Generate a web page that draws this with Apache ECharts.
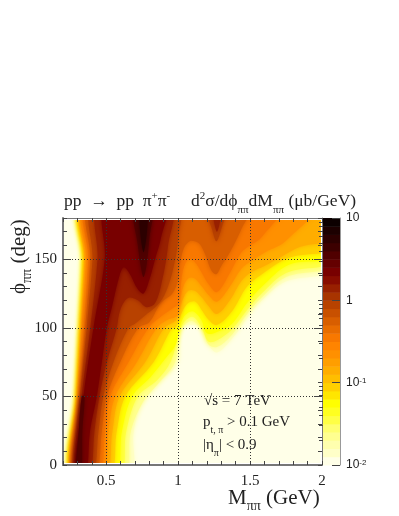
<!DOCTYPE html>
<html>
<head>
<meta charset="utf-8">
<style>
  html, body { margin: 0; background: #fff; }
  #chart { width: 399px; height: 516px; }
</style>
<script src="https://cdn.jsdelivr.net/npm/echarts@6/dist/echarts.min.js"></script>
</head>
<body>
<div id="chart"></div>
<script>
// colz palette, one colour per 0.1 in log10(value), from 10^-2 up to 10^1
const bandLow = [-2, -1.9, -1.8, -1.7, -1.6, -1.5, -1.4, -1.3, -1.2, -1.1, -1, -0.9, -0.8, -0.7, -0.6,
  -0.5, -0.4, -0.3, -0.2, -0.1, 0, 0.1, 0.2, 0.3, 0.4, 0.5, 0.6, 0.7, 0.8, 0.9]
const bandColor = ['#FFFFE8', '#FFFFC8', '#FFFFAE', '#FFFF90', '#FFFF70', '#FFFF45', '#FFFF20', '#FFFF00',
  '#FFE600', '#FFD000', '#FFBE00', '#FFAD00', '#FF9E00', '#FF9000', '#FF8400', '#F87800', '#E86C00', '#D85E00',
  '#C85000', '#B84200', '#A83400', '#982000', '#880C00', '#780000', '#640000', '#500000', '#3C0000', '#2C0000',
  '#1C0000', '#0C0000']

// contour outlines, as [M, phi]; they run past the filled area and get clipped to it
const floorLevel = [[0.15, -10], [2.1, -10], [2.1, 190], [0.15, 190]]
const contourM19 = [[0.25, -10], [0.283, 50], [0.305, 100], [0.328, 150], [0.337, 190], [2.1, 190], [2.1, 144],
  [1.745, 133.6], [1.583, 120], [1.479, 107], [1.375, 92], [1.27, 82], [1.213, 87.4], [1.178, 98], [1.144, 102],
  [1.074, 102], [1.005, 99.6], [1, 75], [0.877, 60.7], [0.795, 51], [0.726, 39], [0.69, 23], [0.665, -10]]
const contourM17 = [[0.252, -10], [0.286, 50], [0.309, 100], [0.331, 150], [0.34, 190], [2.1, 190], [2.1, 147],
  [1.75, 137], [1.58, 122], [1.479, 110], [1.375, 95], [1.27, 86], [1.21, 88], [1.17, 98], [1.1, 105], [1.04, 102],
  [1.002, 97], [0.98, 75], [0.85, 58], [0.755, 46], [0.672, 25], [0.62, -10]]
const contourM15 = [[0.254, -10], [0.288, 50], [0.312, 100], [0.334, 150], [0.343, 190], [2.1, 190], [2.1, 150],
  [1.75, 140], [1.58, 125], [1.479, 113], [1.375, 99], [1.27, 91], [1.21, 90], [1.165, 100], [1.1, 108], [1.04, 104],
  [1.003, 95], [0.947, 75], [0.855, 62], [0.72, 50], [0.64, 25], [0.588, -10]]
const contourM13 = [[0.257, -10], [0.291, 50], [0.316, 100], [0.339, 150], [0.347, 190], [2.1, 190], [2.1, 153],
  [1.769, 146], [1.583, 130], [1.479, 118], [1.375, 103], [1.27, 97], [1.2, 96], [1.16, 106], [1.1, 112], [1.04, 108],
  [1.005, 98], [0.98, 87], [0.923, 79], [0.807, 64], [0.68, 50], [0.61, 25], [0.556, -10]]
const contourM11 = [[0.259, -10], [0.295, 50], [0.32, 100], [0.345, 150], [0.352, 190], [2.1, 190], [2.1, 159],
  [1.77, 151], [1.583, 139], [1.479, 130], [1.375, 112], [1.27, 102], [1.21, 106], [1.17, 112], [1.12, 119], [1.07, 118],
  [1.03, 112], [1.005, 105], [0.98, 100], [0.958, 100], [0.83, 75], [0.633, 50], [0.574, 25], [0.52, -10]]
const contourM09 = [[0.262, -10], [0.3, 50], [0.325, 100], [0.35, 150], [0.357, 190], [2.1, 190], [2.1, 166],
  [1.85, 159], [1.72, 152], [1.6, 145], [1.5, 140], [1.44, 134], [1.36, 120], [1.27, 110], [1.21, 116], [1.165, 122],
  [1.116, 127], [1.07, 127], [1.03, 120], [1.005, 110], [0.98, 105], [0.905, 100], [0.772, 75], [0.593, 50], [0.544, 25],
  [0.49, -10]]
const contourM07 = [[0.266, -10], [0.307, 50], [0.33, 100], [0.36, 150], [0.367, 190], [1.95, 190], [1.745, 163],
  [1.606, 155], [1.514, 149], [1.44, 143], [1.36, 130], [1.27, 119], [1.21, 124], [1.165, 130], [1.116, 136],
  [1.07, 136], [1.03, 128], [1.005, 112], [0.985, 108], [0.93, 106], [0.853, 100], [0.714, 75], [0.563, 50], [0.516, 25],
  [0.47, -10]]
const contourM05 = [[0.269, -10], [0.312, 50], [0.345, 100], [0.375, 150], [0.382, 190], [1.72, 190], [1.58, 166],
  [1.5, 160], [1.44, 155], [1.36, 140], [1.27, 126], [1.21, 132], [1.165, 140], [1.116, 148], [1.07, 150], [1.03, 140],
  [1.005, 118], [0.96, 114], [0.88, 108], [0.795, 100], [0.656, 75], [0.528, 50], [0.493, 25], [0.445, -10]]
const contourM03 = [[0.271, -10], [0.316, 50], [0.355, 100], [0.39, 150], [0.397, 190], [1.5, 190], [1.44, 172],
  [1.36, 155], [1.3, 145], [1.266, 139], [1.23, 142], [1.19, 153], [1.15, 161], [1.116, 163], [1.08, 163], [1.04, 158],
  [1.01, 145], [1, 135], [0.96, 125], [0.88, 118], [0.8, 104], [0.725, 100], [0.598, 75], [0.505, 50], [0.47, 25],
  [0.42, -10]]
const contourM01 = [[0.273, -10], [0.319, 50], [0.365, 100], [0.405, 150], [0.412, 190], [1, 190], [1, 165],
  [0.98, 150], [0.93, 130], [0.87, 118], [0.76, 108], [0.7, 103], [0.656, 100], [0.551, 75], [0.48, 50], [0.447, 25],
  [0.4, -10]]
const peakM01 = [[1.19, 190], [1.235, 172], [1.266, 163], [1.3, 172], [1.34, 190]]
const contourP01 = [[0.277, -10], [0.33, 50], [0.39, 100], [0.44, 150], [0.452, 190], [0.95, 190], [0.93, 160],
  [0.89, 135], [0.84, 118], [0.78, 115], [0.72, 120], [0.66, 122], [0.62, 118], [0.59, 110], [0.574, 100], [0.505, 75],
  [0.453, 50], [0.419, 25], [0.38, -10]]
const peakP01 = [[1.24, 190], [1.27, 170], [1.3, 190]]
const contourP03 = [[0.281, -10], [0.342, 50], [0.412, 100], [0.49, 150], [0.497, 190], [0.91, 190], [0.88, 165],
  [0.84, 150], [0.8, 135], [0.76, 125], [0.72, 128], [0.66, 140], [0.62, 144], [0.585, 135], [0.54, 115], [0.505, 100],
  [0.47, 75], [0.435, 50], [0.388, 25], [0.355, -10]]
const rhoP05 = [[0.69, 190], [0.72, 160], [0.745, 142], [0.76, 137], [0.78, 145], [0.8, 165], [0.82, 190]]
const edgeP05 = [[0.288, -10], [0.325, -10], [0.335, 25], [0.35, 50], [0.33, 50], [0.31, 25]]
const rhoP07 = [[0.73, 190], [0.76, 155], [0.79, 190]]

// which band each outline is filled with, painted from low to high
const contourBand = [0, 1, 3, 5, 7, 9, 11, 13, 15, 17, 19, 19, 21, 21, 23, 25, 25, 27]
const contourShape = [floorLevel, contourM19, contourM17, contourM15, contourM13, contourM11, contourM09, contourM07,
  contourM05, contourM03, contourM01, peakM01, contourP01, peakP01, contourP03, rhoP05, edgeP05, rhoP07]

// the filled part of the plot stops just short of the frame
const filledMass = [0.2, 1.99]
const filledPhi = [1.5, 178.5]

const massMajor = [0.5, 1, 1.5]
const massLabels = [0.5, 1, 1.5, 2]
const phiMajor = [50, 100, 150]
const phiLabels = [0, 50, 100, 150]
const barLabels = [-2, -1, 0, 1]
const barMinor = [0.02, 0.03, 0.04, 0.05, 0.06, 0.07, 0.08, 0.09, 0.2, 0.3, 0.4, 0.5, 0.6, 0.7, 0.8, 0.9,
  2, 3, 4, 5, 6, 7, 8, 9].map((v) => Math.log10(v))

const serif = '"Liberation Serif", serif'
const axisGrey = '#777'
const inkColor = '#222'

const plotRect = { left: 63, top: 218, width: 259, height: 247 }
const barRect = { left: 323, top: 218, width: 17, height: 247 }

const chart = echarts.init(document.getElementById('chart'))

function renderContour(params, api) {
  const i = api.value(0)
  const fill = bandColor[contourBand[i]]
  const lo = api.coord([filledMass[0], filledPhi[0]])
  const hi = api.coord([filledMass[1], filledPhi[1]])
  return {
    type: 'polygon',
    shape: { points: contourShape[i].map((p) => api.coord(p)), smooth: i === 0 ? 0 : 0.35 },
    style: { fill, shadowBlur: i === 0 ? 0 : 5, shadowColor: fill },
    clipPath: { type: 'rect', shape: { x: lo[0], y: hi[1], width: hi[0] - lo[0], height: lo[1] - hi[1] } },
  }
}

function renderBand(params, api) {
  const i = api.value(0)
  const lo = api.coord([0, bandLow[i]])
  const hi = api.coord([1, i + 1 < bandLow.length ? bandLow[i + 1] : 1])
  return {
    type: 'rect',
    shape: { x: lo[0], y: hi[1], width: hi[0] - lo[0], height: lo[1] - hi[1] + 0.5 },
    style: { fill: bandColor[i] },
  }
}

function minorX(position, labels) {
  return {
    type: 'value', gridIndex: 0, position, min: 0.2, max: 2, interval: 0.1, z: 5,
    axisLine: { onZero: false, lineStyle: { color: axisGrey, width: position === 'bottom' ? 2 : 1 } },
    axisTick: { inside: true, length: 4, lineStyle: { color: '#444' } },
    axisLabel: labels
      ? { customValues: massLabels, margin: 9, color: inkColor, fontFamily: serif, fontSize: 15 }
      : { show: false },
    splitLine: { show: false },
  }
}

function minorY(position, labels) {
  return {
    type: 'value', gridIndex: 0, position, min: 0, max: 180, interval: 10, z: 5,
    axisLine: { onZero: false, lineStyle: { color: axisGrey, width: position === 'left' ? 2 : 1 } },
    axisTick: { inside: true, length: 4, lineStyle: { color: '#444' } },
    axisLabel: labels
      ? { customValues: phiLabels, margin: 6, color: inkColor, fontFamily: serif, fontSize: 15 }
      : { show: false },
    splitLine: { show: false },
  }
}

const dotted = { show: true, lineStyle: { color: '#333', width: 1, type: [1, 2] } }

const subStyle = (size) => ({ fontSize: size, verticalAlign: 'bottom', lineHeight: 30, fontFamily: serif, fill: inkColor })
const supStyle = (size) => ({
  fontSize: size, verticalAlign: 'top', lineHeight: 30, padding: [5, 0, 0, 0], fontFamily: serif, fill: inkColor,
})

const option = {
  backgroundColor: '#fff',
  animation: false,
  grid: [plotRect, plotRect, barRect, barRect],
  xAxis: [
    minorX('bottom', true),
    minorX('top', false),
    {
      type: 'value', gridIndex: 1, min: 0.2, max: 2, z: 6,
      axisLine: { show: false }, axisLabel: { show: false },
      axisTick: { show: false, customValues: massMajor },
      splitLine: dotted,
    },
    { type: 'value', gridIndex: 2, min: 0, max: 1, show: false },
    { type: 'value', gridIndex: 3, min: 0, max: 1, show: false },
  ],
  yAxis: [
    minorY('left', true),
    minorY('right', false),
    {
      type: 'value', gridIndex: 1, position: 'left', min: 0, max: 180, z: 6,
      axisLine: { show: false }, axisLabel: { show: false },
      axisTick: { inside: true, length: 8, customValues: phiMajor, lineStyle: { color: '#444' } },
      splitLine: dotted,
    },
    {
      type: 'value', gridIndex: 1, position: 'right', min: 0, max: 180, z: 6,
      axisLine: { show: false }, axisLabel: { show: false },
      axisTick: { inside: true, length: 8, customValues: phiMajor, lineStyle: { color: '#444' } },
      splitLine: { show: false },
    },
    {
      type: 'value', gridIndex: 2, position: 'right', min: -2, max: 1, z: 5,
      axisLine: { onZero: false, lineStyle: { color: '#999' } },
      axisTick: { inside: true, length: 8, customValues: barLabels, lineStyle: { color: '#444' } },
      axisLabel: {
        customValues: barLabels, margin: 6, color: inkColor, fontFamily: 'Liberation Sans, sans-serif', fontSize: 12,
        formatter: (v) => (v === 1 ? '10' : v === 0 ? '1' : `10{sup|${v}}`),
        rich: { sup: { fontSize: 8, verticalAlign: 'top', fontFamily: 'Liberation Sans, sans-serif', color: inkColor } },
      },
      splitLine: { show: false },
    },
    {
      type: 'value', gridIndex: 3, position: 'right', min: -2, max: 1, z: 5,
      axisLine: { show: false }, axisLabel: { show: false },
      axisTick: { inside: true, length: 4, customValues: barMinor, lineStyle: { color: '#444' } },
      splitLine: { show: false },
    },
  ],
  series: [
    {
      type: 'custom', xAxisIndex: 0, yAxisIndex: 0, coordinateSystem: 'cartesian2d', z: 2, silent: true,
      renderItem: renderContour, data: contourShape.map((s, i) => [i]), encode: { x: -1, y: -1 },
    },
    {
      type: 'custom', xAxisIndex: 3, yAxisIndex: 4, coordinateSystem: 'cartesian2d', z: 2, silent: true,
      renderItem: renderBand, data: bandLow.map((b, i) => [i]), encode: { x: -1, y: -1 },
    },
  ],
  graphic: [
    {
      type: 'text', left: 64, top: 186, z: 20,
      style: {
        text: 'pp  →  pp  π{sup|+}π{sup|-}', fill: inkColor, font: '17.5px ' + serif,
        rich: { sup: supStyle(11) },
      },
    },
    {
      type: 'text', left: 191, top: 186, z: 20,
      style: {
        text: 'd{sup|2}σ/dϕ{sub|ππ}dM{sub|ππ} (μb/GeV)', fill: inkColor, font: '17.5px ' + serif,
        rich: { sup: supStyle(11), sub: subStyle(11) },
      },
    },
    {
      type: 'text', x: 4, y: 294, rotation: Math.PI / 2, z: 20,
      style: {
        text: 'ϕ{sub|ππ} (deg)', fill: inkColor, font: '21px ' + serif,
        rich: { sub: subStyle(14) },
      },
    },
    {
      type: 'text', left: 228, top: 488, z: 20,
      style: {
        text: 'M{sub|ππ} (GeV)', fill: inkColor, font: '21px ' + serif,
        rich: { sub: subStyle(14) },
      },
    },
    {
      type: 'text', left: 204, top: 394, z: 20,
      style: { text: '√s = 7 TeV', fill: inkColor, font: '15px ' + serif },
    },
    {
      type: 'text', left: 203, top: 415, z: 20,
      style: {
        text: 'p{sub|t, π} > 0.1 GeV', fill: inkColor, font: '15px ' + serif,
        rich: { sub: { fontSize: 10, verticalAlign: 'bottom', lineHeight: 26, fontFamily: serif, fill: inkColor } },
      },
    },
    {
      type: 'text', left: 203, top: 438, z: 20,
      style: {
        text: '|η{sub|π}| < 0.9', fill: inkColor, font: '15px ' + serif,
        rich: { sub: { fontSize: 10, verticalAlign: 'bottom', lineHeight: 26, fontFamily: serif, fill: inkColor } },
      },
    },
  ],
}

chart.setOption(option)
</script>
</body>
</html>
